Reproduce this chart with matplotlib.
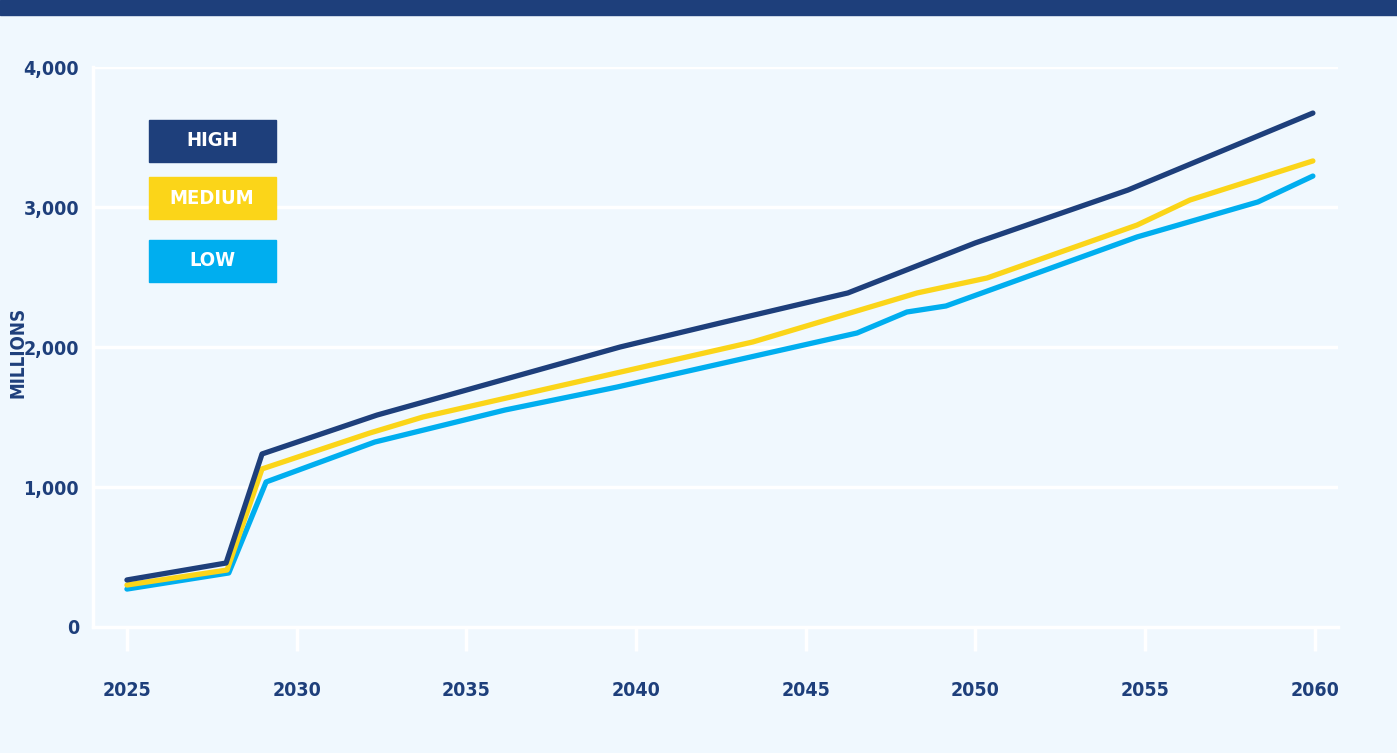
import matplotlib.pyplot as plt
from matplotlib.patches import Rectangle

NAVY = "#1e3f7b"
YELLOW = "#fbd519"
CYAN = "#00aeef"
BG = "#f0f8fe"

high_years = [2025, 2027.92, 2028.98, 2032.37, 2039.53, 2042.47, 2046.24, 2049.99, 2054.49, 2059.94]
high_vals = [336, 457, 1236, 1514, 2000, 2171, 2386, 2743, 3121, 3671]

medium_years = [2025, 2027.95, 2028.98, 2032.16, 2033.72, 2043.44, 2048.28, 2050.34, 2054.76, 2056.32, 2059.94]
medium_vals = [300, 407, 1129, 1386, 1500, 2036, 2386, 2493, 2871, 3050, 3329]

low_years = [2025, 2028.0, 2029.1, 2032.3, 2036.14, 2039.44, 2046.51, 2047.98, 2049.13, 2054.76, 2058.32, 2059.94]
low_vals = [271, 386, 1036, 1321, 1550, 1714, 2100, 2250, 2293, 2786, 3036, 3221]

x_ticks = [2025, 2030, 2035, 2040, 2045, 2050, 2055, 2060]
y_ticks = [0, 1000, 2000, 3000, 4000]
y_labels = ["0", "1,000", "2,000", "3,000", "4,000"]
legend_labels = ["HIGH", "MEDIUM", "LOW"]

plt.rcParams["font.family"] = ["DejaVu Sans"]
plt.rcParams["font.stretch"] = "condensed"

fig = plt.figure(figsize=(13.97, 7.53), dpi=100, facecolor=BG)
ax = fig.add_axes([93 / 1397, 1 - 627 / 753, (1338 - 93) / 1397, (627 - 67) / 753])
ax.set_facecolor(BG)

# top band
fig.add_artist(Rectangle((0, 1 - 15 / 753), 1, 15 / 753, transform=fig.transFigure,
                         color=NAVY, zorder=0))

for yv in y_ticks[1:]:
    ax.axhline(yv, color="white", lw=2.5, zorder=1)

ax.plot(low_years, low_vals, color=CYAN, lw=3.8, solid_capstyle="round", solid_joinstyle="round", zorder=3)
ax.plot(medium_years, medium_vals, color=YELLOW, lw=3.8, solid_capstyle="round", solid_joinstyle="round", zorder=4)
ax.plot(high_years, high_vals, color=NAVY, lw=3.8, solid_capstyle="round", solid_joinstyle="round", zorder=5)

ax.set_xlim(2024.0, 2060.68)
ax.set_ylim(0, 4000)
for s in ["top", "right"]:
    ax.spines[s].set_visible(False)
for s in ["left", "bottom"]:
    ax.spines[s].set_color("white")
    ax.spines[s].set_linewidth(2.5)

ax.set_xticks(x_ticks)
ax.set_xticklabels([str(x) for x in x_ticks])
ax.set_yticks(y_ticks)
ax.set_yticklabels(y_labels)
ax.tick_params(axis="x", length=17, width=2.5, color="white", pad=22,
               labelsize=14, labelcolor=NAVY)
ax.tick_params(axis="y", length=0, pad=10, labelsize=14, labelcolor=NAVY)
for lab in ax.get_xticklabels() + ax.get_yticklabels():
    lab.set_fontweight("bold")

fig.text(18 / 1397, 1 - 352 / 753, "MILLIONS", rotation=90, ha="center", va="center",
         color=NAVY, fontsize=13.5, fontweight="bold")

# legend boxes
box_tops = [120, 177, 240]
box_colors = [NAVY, YELLOW, CYAN]
for lab, top, col in zip(legend_labels, box_tops, box_colors):
    fig.add_artist(Rectangle((149 / 1397, 1 - (top + 42) / 753), 127 / 1397, 42 / 753,
                             transform=fig.transFigure, color=col, zorder=6))
    fig.text(212 / 1397, 1 - (top + 21) / 753, lab, ha="center", va="center",
             color="white", fontsize=14.5, fontweight="bold", zorder=7)

fig.savefig("out.png", dpi=100, facecolor=BG)
